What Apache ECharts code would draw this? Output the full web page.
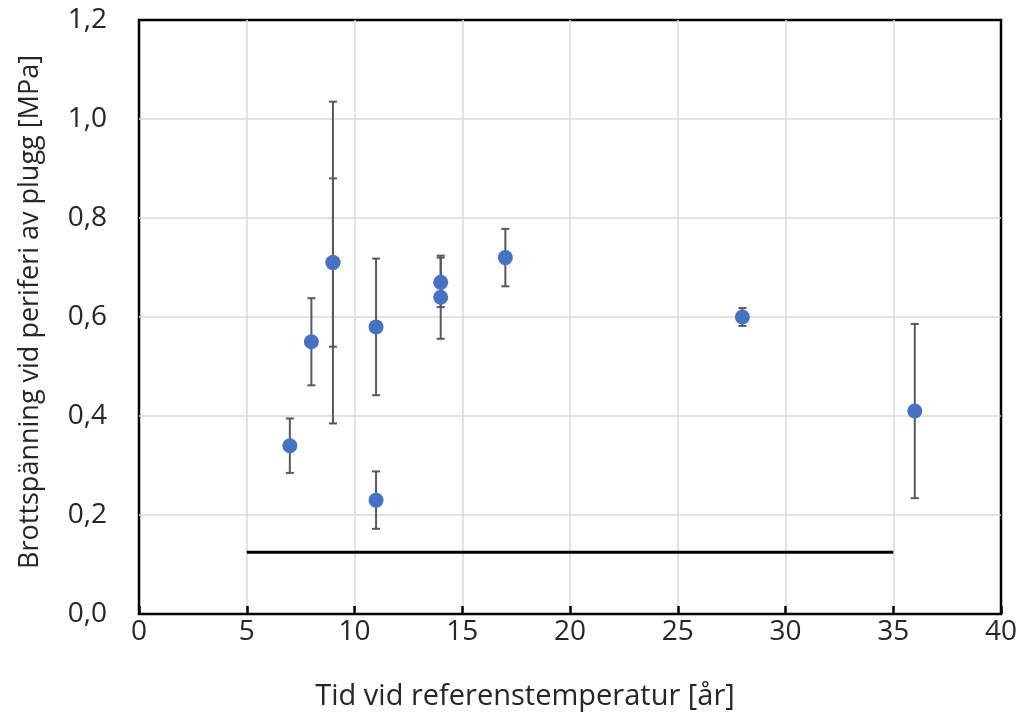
<!DOCTYPE html>
<html>
<head>
<meta charset="utf-8">
<script src="https://cdn.jsdelivr.net/npm/echarts@6/dist/echarts.min.js"></script>
<style>
  html, body { margin: 0; padding: 0; background: #fff; }
  #chart { width: 1019px; height: 715px; }
</style>
</head>
<body>
<div id="chart"></div>
<script>
// Measurements: time at reference temperature [years], stress [MPa], ± spread
const years   = [7,     8,     9,     9,     11,    11,    14,    14,    17,    28,    36];
const stress  = [0.34,  0.55,  0.71,  0.71,  0.58,  0.23,  0.67,  0.64,  0.72,  0.60,  0.41];
const spread  = [0.055, 0.088, 0.325, 0.17,  0.138, 0.058, 0.05,  0.084, 0.058, 0.018, 0.176];

// Horizontal reference level
const refLine = [[5, 0.125], [35, 0.125]];

const xTitle = 'Tid vid referenstemperatur [år]';
const yTitle = 'Brottspänning vid periferi av plugg [MPa]';

const FONT = 'Open Sans';
const TEXT = '#262626';
const points = years.map((x, i) => [x, stress[i]]);
const bars = years.map((x, i) => [x, stress[i] - spread[i], stress[i] + spread[i]]);

const chart = echarts.init(document.getElementById('chart'), null, { renderer: 'canvas' });

chart.setOption({
  animation: false,
  backgroundColor: '#ffffff',
  grid: {
    left: 139, right: 18, top: 20, bottom: 101,
    outerBoundsMode: 'none',
    containLabel: false,
    show: true, borderColor: '#000', borderWidth: 2.5, backgroundColor: 'transparent'
  },
  xAxis: {
    type: 'value', min: 0, max: 40, interval: 5,
    name: xTitle, nameLocation: 'middle', nameGap: 68,
    // title sits a little left of the plot centre
    nameTextStyle: { fontFamily: FONT, fontSize: 29, color: TEXT, padding: [0, 90, 0, 0] },
    axisLine: { show: false },
    axisTick: { show: true, inside: true, length: 8, lineStyle: { color: '#000', width: 2.5 } },
    axisLabel: { fontFamily: FONT, fontSize: 28, color: TEXT, margin: 4 },
    splitLine: { show: true, showMinLine: false, showMaxLine: false, lineStyle: { color: '#d9d9d9', width: 1.5 } }
  },
  yAxis: {
    type: 'value', min: 0, max: 1.2, interval: 0.2,
    name: yTitle, nameLocation: 'middle', nameGap: 95, nameRotate: 90,
    nameTextStyle: { fontFamily: FONT, fontSize: 27, color: TEXT, padding: [0, 0, 0, 10] },
    axisLine: { show: false },
    axisTick: { show: false },
    axisLabel: {
      fontFamily: FONT, fontSize: 28, color: TEXT, margin: 32,
      formatter: v => v.toFixed(1).replace('.', ',')
    },
    splitLine: { show: true, showMinLine: false, showMaxLine: false, lineStyle: { color: '#d9d9d9', width: 1.5 } }
  },
  series: [
    {
      type: 'line',
      data: refLine,
      symbol: 'none',
      lineStyle: { color: '#000', width: 3 },
      z: 3
    },
    {
      type: 'custom',
      data: bars,
      z: 4,
      renderItem: (params, api) => {
        const x = api.value(0);
        const lo = api.coord([x, api.value(1)]);
        const hi = api.coord([x, api.value(2)]);
        const cap = 4;
        const style = { stroke: '#595959', lineWidth: 2 };
        return {
          type: 'group',
          children: [
            { type: 'line', shape: { x1: lo[0], y1: lo[1], x2: hi[0], y2: hi[1] }, style },
            { type: 'line', shape: { x1: lo[0] - cap, y1: lo[1], x2: lo[0] + cap, y2: lo[1] }, style },
            { type: 'line', shape: { x1: hi[0] - cap, y1: hi[1], x2: hi[0] + cap, y2: hi[1] }, style }
          ]
        };
      }
    },
    {
      type: 'scatter',
      data: points,
      symbol: 'circle',
      symbolSize: 15,
      itemStyle: { color: '#4472C4', opacity: 1 },
      z: 5
    }
  ]
});
</script>
</body>
</html>
